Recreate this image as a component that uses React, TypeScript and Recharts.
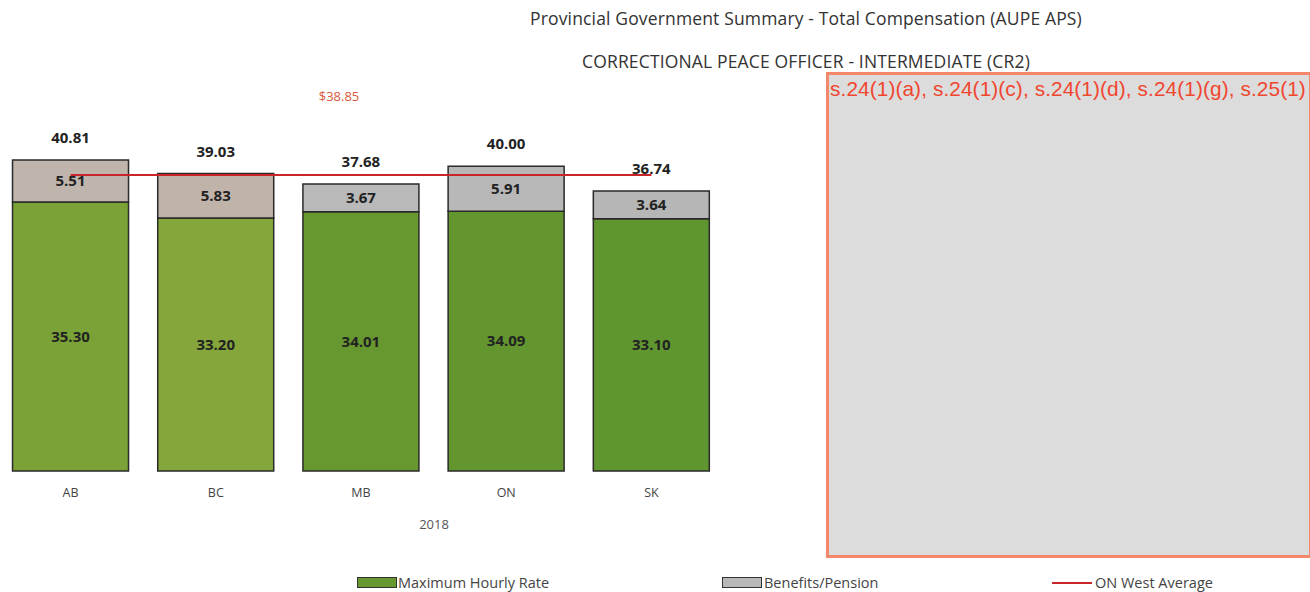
import { Bar, Cell, ComposedChart, LabelList, Line, XAxis, YAxis } from "recharts";

const provinces = ["AB", "BC", "MB", "ON", "SK"];
const hourlyRate = [35.3, 33.2, 34.01, 34.09, 33.1];
const benefits = [5.51, 5.83, 3.67, 5.91, 3.64];
const westAverage = 38.85;

const greens = ["#7ba236", "#85a63a", "#67982f", "#63962f", "#5f9630"];
const grays = ["#bfb5ad", "#c0b4aa", "#b9b9b9", "#b8b8b8", "#b6b6b6"];

const data = provinces.map((p, i) => ({
	province: p,
	rate: hourlyRate[i],
	benefits: benefits[i],
	total: +(hourlyRate[i] + benefits[i]).toFixed(2),
	avg: westAverage,
}));

const font = "'Open Sans', 'Noto Sans', sans-serif";

const TotalLabel = (props: any) => {
	const { x, y, width, index } = props;
	return (
		<text
			x={x + width / 2}
			y={y - 23}
			textAnchor="middle"
			dominantBaseline="central"
			fontSize={15}
			fontWeight={700}
			fontFamily={font}
			fill="#222"
		>
			{data[index].total.toFixed(2)}
		</text>
	);
};

const AvgLabel = (props: any) => {
	const { x, y, index } = props;
	if (index !== 2) return null;
	return (
		<text
			x={x - 22}
			y={y - 79}
			textAnchor="middle"
			dominantBaseline="central"
			fontSize={13}
			fontFamily={font}
			fill="#d9583b"
		>
			${westAverage.toFixed(2)}
		</text>
	);
};

const fmt = (v: number) => v.toFixed(2);

const segLabel = { fontSize: 15, fontWeight: 700, fill: "#222", fontFamily: font };

export default function App() {
	return (
		<div
			style={{
				position: "absolute",
				left: 0,
				top: 0,
				width: 1310,
				height: 592,
				background: "#fff",
				fontFamily: font,
				overflow: "hidden",
			}}
		>
			<div style={{ position: "absolute", left: 0, width: 1612, top: 6, textAlign: "center", fontSize: 17.5, letterSpacing: 0.15, color: "#333" }}>
				Provincial Government Summary - Total Compensation (AUPE APS)
			</div>
			<div style={{ position: "absolute", left: 0, width: 1612, top: 49, textAlign: "center", fontSize: 17.5, letterSpacing: 0.15, color: "#333" }}>
				CORRECTIONAL PEACE OFFICER - INTERMEDIATE (CR2)
			</div>

			<div style={{ position: "absolute", left: -2, top: 0 }}>
				<ComposedChart
					width={726}
					height={592}
					data={data}
					margin={{ top: 90, right: 0, bottom: 91, left: 0 }}
					barCategoryGap="10%"
				>
					<XAxis
						dataKey="province"
						axisLine={false}
						tickLine={false}
						height={30}
						tickMargin={11}
						tick={{ fontSize: 12.5, fill: "#444", fontFamily: font }}
					/>
					<YAxis hide domain={[0, 50]} />
					<Bar dataKey="rate" stackId="a" stroke="#2a2a2a" strokeWidth={1.5} isAnimationActive={false}>
						{data.map((_, i) => (
							<Cell key={i} fill={greens[i]} />
						))}
						<LabelList dataKey="rate" position="center" formatter={fmt} style={segLabel} />
					</Bar>
					<Bar dataKey="benefits" stackId="a" stroke="#2a2a2a" strokeWidth={1.5} isAnimationActive={false}>
						{data.map((_, i) => (
							<Cell key={i} fill={grays[i]} />
						))}
						<LabelList dataKey="benefits" position="center" formatter={fmt} style={segLabel} />
						<LabelList dataKey="total" content={TotalLabel} />
					</Bar>
					<Line
						dataKey="avg"
						type="linear"
						stroke="#c8262b"
						strokeWidth={2}
						dot={false}
						activeDot={false}
						isAnimationActive={false}
					>
						<LabelList dataKey="avg" content={AvgLabel} />
					</Line>
				</ComposedChart>
			</div>

			<div style={{ position: "absolute", left: 384, top: 515, fontSize: 13, color: "#555", width: 100, textAlign: "center" }}>
				2018
			</div>

			<div
				style={{
					position: "absolute",
					left: 826,
					top: 72,
					width: 480,
					height: 480,
					border: "3px solid #f4866c",
					background: "#dcdcdc",
				}}
			>
				<div
					style={{
						position: "absolute",
						left: 1,
						top: 2,
						whiteSpace: "nowrap",
						fontFamily: "'Liberation Sans', Arial, sans-serif",
						fontSize: 20.8,
						letterSpacing: 0.1,
						color: "#f0462f",
					}}
				>
					s.24(1)(a), s.24(1)(c), s.24(1)(d), s.24(1)(g), s.25(1)
				</div>
			</div>

			<div style={{ position: "absolute", top: 573, left: 0, width: 1310, height: 19, fontSize: 14.5, color: "#444" }}>
				<div style={{ position: "absolute", left: 357, top: 4, width: 40, height: 11, background: "#67982f", border: "1px solid #333", boxSizing: "border-box" }} />
				<div style={{ position: "absolute", left: 398, top: 0 }}>Maximum Hourly Rate</div>
				<div style={{ position: "absolute", left: 722, top: 4, width: 40, height: 11, background: "#b8b8b8", border: "1px solid #333", boxSizing: "border-box" }} />
				<div style={{ position: "absolute", left: 764, top: 0 }}>Benefits/Pension</div>
				<div style={{ position: "absolute", left: 1052, top: 9, width: 40, height: 2, background: "#c8262b" }} />
				<div style={{ position: "absolute", left: 1095, top: 0 }}>ON West Average</div>
			</div>
		</div>
	);
}
